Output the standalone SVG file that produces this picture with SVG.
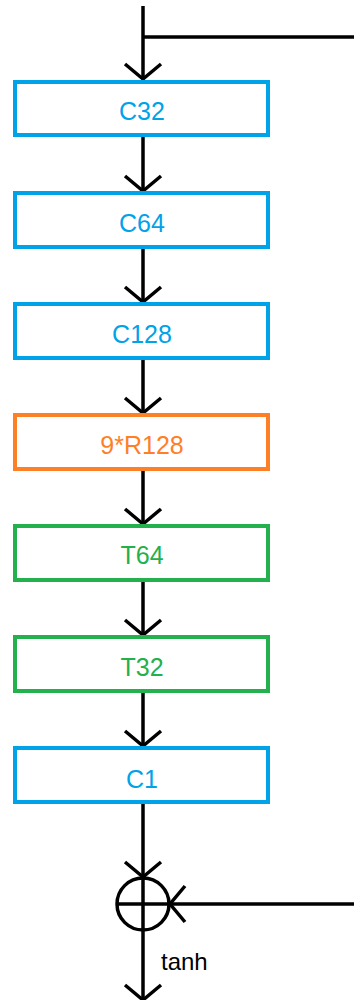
<svg xmlns="http://www.w3.org/2000/svg" width="354" height="1000" viewBox="0 0 354 1000">
  <style>
    .box { fill: #ffffff; stroke-width: 4; }
    .blue rect { stroke: #00a2e8; }
    .blue text { fill: #00a2e8; }
    .orange rect { stroke: #ff7f27; }
    .orange text { fill: #ff7f27; }
    .green rect { stroke: #22b14c; }
    .green text { fill: #22b14c; }
    .label { font-family: "Liberation Sans", Arial, sans-serif; font-size: 25px; text-anchor: middle; }
    .wire { fill: none; stroke: #000000; stroke-width: 3.5; }
    .arrow { fill: none; stroke: #000000; stroke-width: 3.5; marker-end: url(#open); }
  </style>
  <defs>
    <marker id="open" markerUnits="userSpaceOnUse" orient="auto" markerWidth="40" markerHeight="40" overflow="visible">
      <path d="M-15,-18 L0,0 L-15,18" fill="none" stroke="#000000" stroke-width="3.5"/>
    </marker>
  </defs>

  <rect width="354" height="1000" fill="#ffffff"/>

  <g id="connectors">
    <path class="wire" d="M143,37 H354"/>
    <path class="arrow" d="M143,6 V79"/>
    <path class="arrow" d="M143,136 V191"/>
    <path class="arrow" d="M143,247 V302"/>
    <path class="arrow" d="M143,358 V413"/>
    <path class="arrow" d="M143,470 V524"/>
    <path class="arrow" d="M143,581 V635"/>
    <path class="arrow" d="M143,692 V746"/>
    <path class="arrow" d="M143,803 V877"/>
    <path class="arrow" d="M354,904 H170"/>
    <path class="wire" d="M117,904 H170"/>
    <path class="wire" d="M143,877 V931"/>
    <path class="arrow" d="M143,931 V1000"/>
  </g>

  <g id="c32" class="blue">
    <rect class="box" x="15" y="82" width="253" height="53"/>
    <text class="label" x="142" y="120">C32</text>
  </g>
  <g id="c64" class="blue">
    <rect class="box" x="15" y="193" width="253" height="54"/>
    <text class="label" x="142" y="232">C64</text>
  </g>
  <g id="c128" class="blue">
    <rect class="box" x="15" y="304" width="253" height="54"/>
    <text class="label" x="142" y="343">C128</text>
  </g>
  <g id="r128" class="orange">
    <rect class="box" x="15" y="415" width="253" height="54"/>
    <text class="label" x="142" y="454">9*R128</text>
  </g>
  <g id="t64" class="green">
    <rect class="box" x="15" y="526" width="253" height="54"/>
    <text class="label" x="142" y="564">T64</text>
  </g>
  <g id="t32" class="green">
    <rect class="box" x="15" y="637" width="253" height="54"/>
    <text class="label" x="142" y="676">T32</text>
  </g>
  <g id="c1" class="blue">
    <rect class="box" x="15" y="748" width="253" height="54"/>
    <text class="label" x="142" y="788">C1</text>
  </g>

  <g id="sum">
    <circle cx="143" cy="904" r="26" fill="none" stroke="#000000" stroke-width="3.5"/>
  </g>
  <g id="tanh">
    <text x="161" y="970" font-family="Liberation Sans, Arial, sans-serif" font-size="24" fill="#000000">tanh</text>
  </g>
</svg>
